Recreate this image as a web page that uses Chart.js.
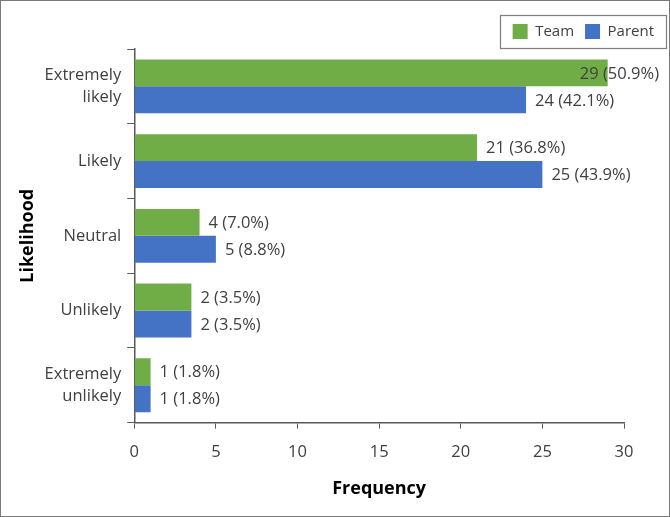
<!DOCTYPE html>
<html>
<head>
<meta charset="utf-8">
<script src="https://cdn.jsdelivr.net/npm/chart.js@4.4.1/dist/chart.umd.min.js"></script>
<style>
  html, body { margin: 0; padding: 0; background: #fff; }
  #wrap { width: 670px; height: 517px; box-sizing: border-box; border: 1.5px solid #7a7a7a; position: relative; }
  canvas { display: block; }
</style>
</head>
<body>
<div id="wrap"><canvas id="myChart" width="667" height="514"></canvas></div>
<script>
// categories, top to bottom
var categories = [["Extremely", "likely"], "Likely", "Neutral", "Unlikely", ["Extremely", "unlikely"]];

// bar lengths as drawn in the figure
var teamBars = [29, 21, 4, 3.5, 1];
var parentBars = [24, 25, 5, 3.5, 1];

// label texts: count and percentage
var teamCounts = [29, 21, 4, 2, 1];
var teamPct = ["50.9", "36.8", "7.0", "3.5", "1.8"];
var parentCounts = [24, 25, 5, 2, 1];
var parentPct = ["42.1", "43.9", "8.8", "3.5", "1.8"];

var xTicks = [0, 5, 10, 15, 20, 25, 30];

var textColor = "#404040";
var axisColor = "#595959";
var fontFamily = "'Open Sans', 'Noto Sans', sans-serif";

// draws "n (p%)" after each bar, pulled in if it would run off the canvas
var barLabels = {
  id: "barLabels",
  afterDatasetsDraw: function(chart) {
    var ctx = chart.ctx;
    ctx.save();
    ctx.font = "16.5px " + fontFamily;
    ctx.fillStyle = textColor;
    ctx.textBaseline = "middle";
    chart.data.datasets.forEach(function(ds, i) {
      var meta = chart.getDatasetMeta(i);
      meta.data.forEach(function(bar, j) {
        var txt = ds.counts[j] + " (" + ds.pct[j] + "%)";
        var w = ctx.measureText(txt).width;
        var x = Math.min(bar.x + 9, chart.width - 9 - w);
        ctx.fillText(txt, x, bar.y + 1);
      });
    });
    ctx.restore();
  }
};

// box around the legend
var legendBox = {
  id: "legendBox",
  afterDraw: function(chart) {
    var boxes = chart.legend.legendHitBoxes;
    if (!boxes || !boxes.length) return;
    var l = Math.min.apply(null, boxes.map(function(b) { return b.left; }));
    var r = Math.max.apply(null, boxes.map(function(b) { return b.left + b.width; }));
    var t = boxes[0].top, h = boxes[0].height;
    var ctx = chart.ctx;
    ctx.save();
    ctx.strokeStyle = "#7f7f7f";
    ctx.lineWidth = 1.2;
    ctx.strokeRect(Math.round(l - 13) + 0.5, Math.round(t - 9) + 0.5, Math.round(r - l + 25), Math.round(h + 18));
    ctx.restore();
  }
};

new Chart("myChart", {
  type: "bar",
  data: {
    labels: categories,
    datasets: [{
      label: "Team",
      data: teamBars,
      counts: teamCounts,
      pct: teamPct,
      backgroundColor: "#70AD47",
      categoryPercentage: 0.72,
      barPercentage: 1.0
    }, {
      label: "Parent",
      data: parentBars,
      counts: parentCounts,
      pct: parentPct,
      backgroundColor: "#4472C4",
      categoryPercentage: 0.72,
      barPercentage: 1.0
    }]
  },
  options: {
    indexAxis: "y",
    responsive: false,
    animation: false,
    layout: { padding: { top: 0, right: 3, left: 16, bottom: 15 } },
    plugins: {
      legend: {
        position: "top",
        align: "end",
        labels: {
          boxWidth: 15,
          boxHeight: 15,
          padding: 11,
          color: textColor,
          font: { size: 15, family: fontFamily }
        }
      },
      tooltip: { enabled: false }
    },
    scales: {
      x: {
        min: 0,
        max: 30,
        afterBuildTicks: function(axis) {
          axis.ticks = xTicks.map(function(v) { return { value: v }; });
        },
        afterFit: function(axis) {
          axis.paddingRight = 44;
        },
        grid: { drawOnChartArea: false, tickLength: 6, color: axisColor },
        border: { color: axisColor, width: 1.5 },
        ticks: { color: textColor, padding: 14, font: { size: 16.5, family: fontFamily } },
        title: {
          display: true,
          text: "Frequency",
          color: "#000",
          padding: { top: 2, bottom: 0 },
          font: { size: 18, weight: "bold", family: fontFamily }
        }
      },
      y: {
        afterFit: function(axis) {
          axis.paddingTop = 48;
        },
        grid: { drawOnChartArea: false, tickLength: 7, color: axisColor, offset: true },
        border: { color: axisColor, width: 1.5 },
        ticks: { color: textColor, padding: 6, font: { size: 16.5, family: fontFamily, lineHeight: 1.33 } },
        title: {
          display: true,
          text: "Likelihood",
          color: "#000",
          padding: { top: 0, bottom: 0 },
          font: { size: 18, weight: "bold", family: fontFamily }
        }
      }
    }
  },
  plugins: [barLabels, legendBox]
});
</script>
</body>
</html>
